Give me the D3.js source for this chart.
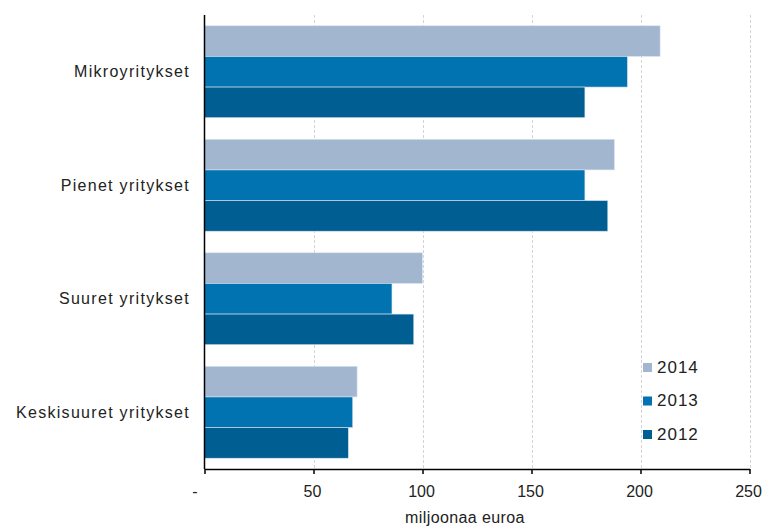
<!DOCTYPE html>
<html><head><meta charset="utf-8">
<script src="https://cdn.jsdelivr.net/npm/d3@7"></script>
<style>
body{margin:0;background:#fff;}
text{font-family:"Liberation Sans",Arial,sans-serif;fill:#222;}
</style></head>
<body><svg id="c" width="766" height="527"></svg>
<script>
const categories = ["Mikroyritykset","Pienet yritykset","Suuret yritykset","Keskisuuret yritykset"];
const years = ["2014","2013","2012"];
const values2014 = [209, 188, 100, 70];
const values2013 = [194, 174.5, 86, 68];
const values2012 = [174.5, 185, 96, 66];
const tickValues = [0, 50, 100, 150, 200, 250];
const tickLabels = ["-", "50", "100", "150", "200", "250"];
const colors = ["#a2b6d0", "#0073b0", "#005e93"];
const series = [values2014, values2013, values2012];

(function(){
const svg = d3.select("#c");
const mLeft = 204.5, mRight = 749.5, mTop = 15, mBottom = 469;

const x = d3.scaleLinear().domain([0, 250]).range([mLeft, mRight]);
const y = d3.scaleBand().domain(categories).range([mTop, mBottom]).paddingInner(0.19).paddingOuter(0.095);
const y1 = d3.scaleBand().domain(years).range([0, y.bandwidth()]);

// gridlines
svg.append("g").selectAll("line").data(tickValues.slice(1)).join("line")
  .attr("x1", d => Math.round(x(d)) + 0.5).attr("x2", d => Math.round(x(d)) + 0.5)
  .attr("y1", mTop).attr("y2", mBottom)
  .attr("stroke", "#d4d4d4").attr("stroke-width", 1).attr("stroke-dasharray", "3,2");

// bars
const g = svg.append("g");
categories.forEach((c, i) => {
  years.forEach((yr, j) => {
    g.append("rect")
      .attr("x", x(0))
      .attr("y", y(c) + y1(yr))
      .attr("width", x(series[j][i]) - x(0))
      .attr("height", y1.bandwidth())
      .attr("fill", colors[j])
      .attr("stroke", "#dbe4ef").attr("stroke-width", 0.6);
  });
});

// x axis
const xAxis = d3.axisBottom(x).tickValues(tickValues).tickSize(5).tickSizeOuter(0)
  .tickFormat((d, i) => tickLabels[i]);
const ax = svg.append("g").attr("transform", `translate(0,${mBottom})`).call(xAxis);
ax.select(".domain").attr("stroke", "#000").attr("stroke-width", 1.5);
ax.selectAll(".tick line").attr("stroke", "#000").attr("stroke-width", 1.5);
ax.selectAll(".tick text").attr("font-size", 16).attr("dy", 20).attr("fill", "#222")
  .attr("font-family", "'Liberation Sans',Arial,sans-serif")
  .attr("dx", (d, i) => i === 0 ? -10 : -1.5);

// y axis line
svg.append("line").attr("x1", mLeft).attr("x2", mLeft).attr("y1", mTop).attr("y2", mBottom)
  .attr("stroke", "#000").attr("stroke-width", 1.5);

// category labels
svg.append("g").selectAll("text").data(categories).join("text")
  .attr("x", 190).attr("y", d => y(d) + y.bandwidth() / 2)
  .attr("text-anchor", "end").attr("dominant-baseline", "central")
  .attr("font-size", 16).attr("letter-spacing", 1.3).text(d => d);

// axis title
svg.append("text").attr("x", 465).attr("y", 523).attr("text-anchor", "middle")
  .attr("font-size", 16).attr("letter-spacing", 0.4).text("miljoonaa euroa");

// legend
const lg = svg.append("g");
years.forEach((yr, j) => {
  const cy = 367 + j * 33.5;
  lg.append("rect").attr("x", 643).attr("y", cy - 4).attr("width", 9).attr("height", 9).attr("fill", colors[j]);
  lg.append("text").attr("x", 657).attr("y", cy).attr("dominant-baseline", "central")
    .attr("font-size", 17).attr("letter-spacing", 1).text(yr);
});
})();
</script></body></html>
